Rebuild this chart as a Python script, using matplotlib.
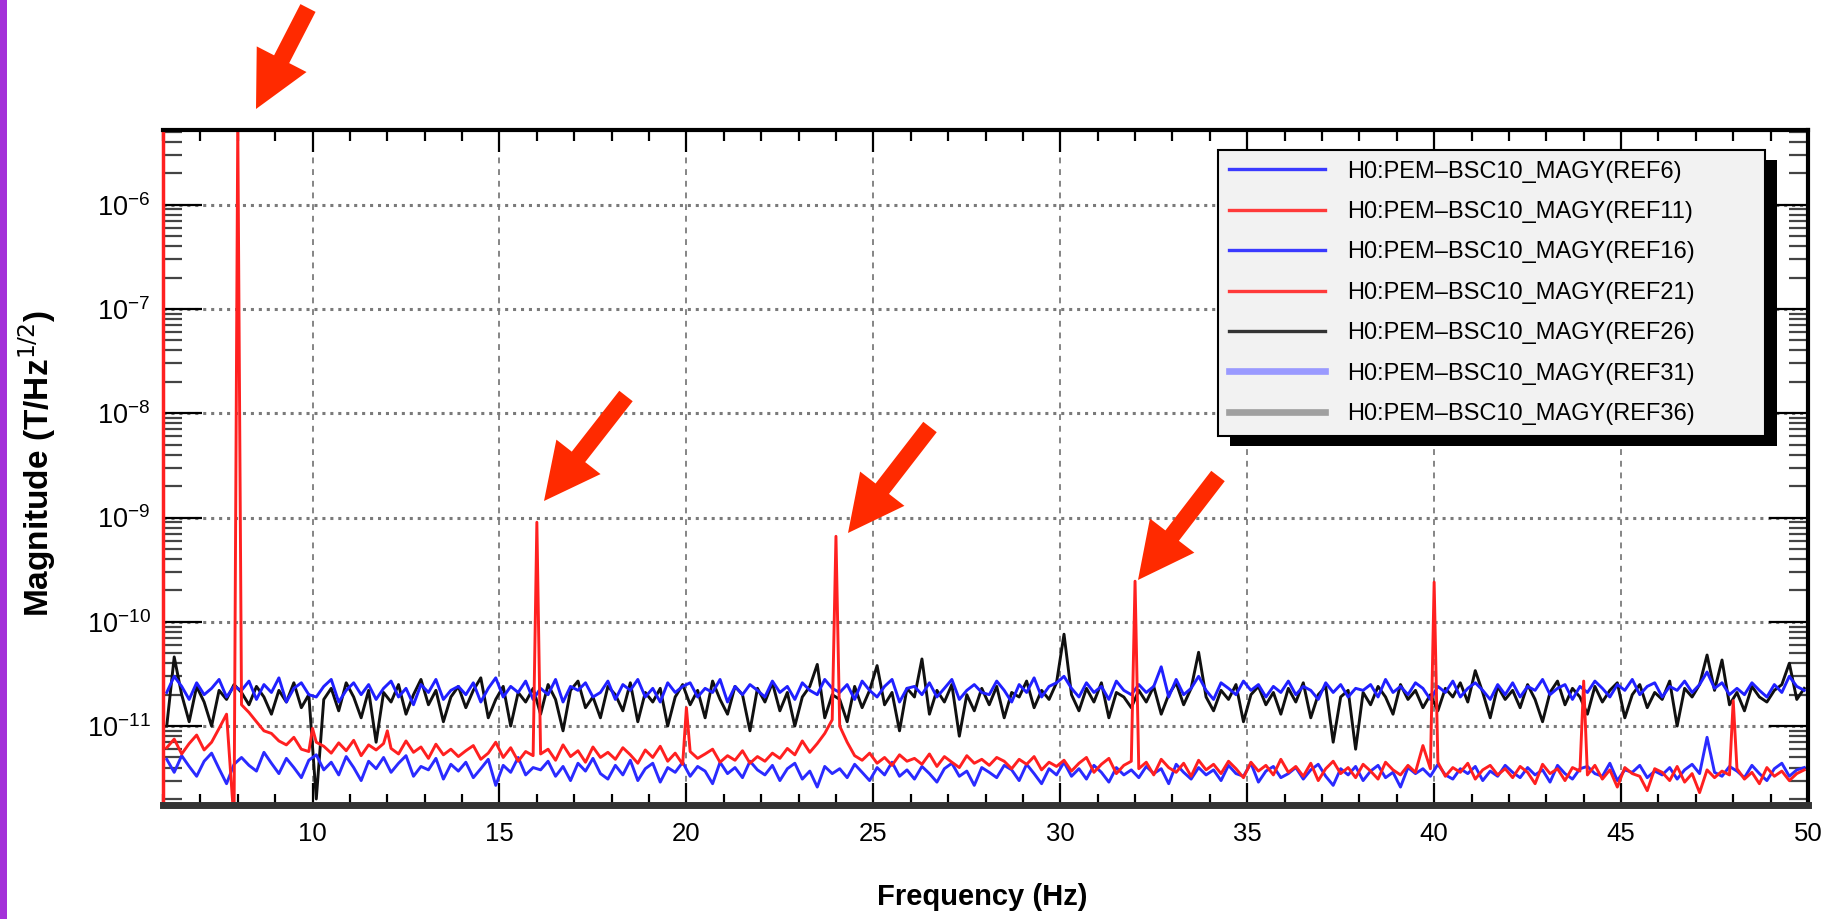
import numpy as np
import matplotlib
matplotlib.use('Agg')
import matplotlib.pyplot as plt
from matplotlib.patches import FancyArrow, Rectangle
from matplotlib.lines import Line2D
from matplotlib.transforms import IdentityTransform
from matplotlib.ticker import FixedLocator, MultipleLocator, NullFormatter, LogFormatterSciNotation

plt.rcParams['font.family'] = ['Liberation Sans Narrow', 'Liberation Sans', 'DejaVu Sans']
plt.rcParams['mathtext.fontset'] = 'custom'
plt.rcParams['mathtext.rm'] = 'Liberation Sans Narrow'
plt.rcParams['mathtext.it'] = 'Liberation Sans Narrow:italic'
plt.rcParams['mathtext.bf'] = 'Liberation Sans Narrow:bold'

# ---------------- data (magnitudes in units of 1e-12 T/Hz^1/2) ----------------
SCALE = 1e-12
f_start, f_step, n_pts = 6.1, 0.2, 220
freq = np.round(f_start + f_step * np.arange(n_pts), 2)

ref26_black = [
    10, 46, 20, 11, 24, 17, 10, 22, 18, 25,
    21, 16, 24, 19, 13, 22, 17, 26, 15, 20,
    2, 18, 23, 14, 26, 19, 12, 22, 7, 21,
    17, 25, 13, 20, 28, 16, 22, 11, 19, 24,
    15, 22, 29, 12, 18, 24, 10, 21, 17, 23,
    13, 25, 18, 9, 22, 27, 15, 19, 12, 24,
    20, 14, 26, 11, 21, 17, 23, 10, 19, 25,
    16, 22, 12, 27, 18, 13, 24, 20, 9, 23,
    17, 26, 14, 21, 10, 19, 24, 39, 12, 20,
    18, 11, 24, 15, 22, 38, 16, 21, 9, 23,
    19, 44, 13, 22, 17, 25, 8, 20, 14, 23,
    16, 24, 12, 21, 19, 27, 15, 22, 18, 26,
    76, 20, 14, 23, 17, 26, 12, 21, 19, 15,
    22, 17, 24, 13, 20, 26, 16, 23, 51, 19,
    14, 22, 18, 25, 11, 20, 24, 16, 21, 13,
    23, 17, 26, 12, 20, 24, 7, 19, 22, 6,
    21, 16, 24, 19, 13, 25, 18, 22, 15, 20,
    14, 23, 19, 26, 17, 34, 21, 12, 24, 18,
    22, 15, 25, 18, 11, 21, 27, 16, 23, 19,
    13, 24, 17, 22, 26, 12, 20, 25, 15, 21,
    18, 27, 10, 23, 19, 25, 48, 22, 43, 16,
    21, 14, 24, 19, 17, 22, 25, 40, 18, 23,
]

ref16_blue = [
    21, 30, 24, 18, 26, 20, 23, 28, 19, 24,
    22, 27, 18, 25, 21, 29, 17, 23, 26, 20,
    19, 24, 28, 17, 22, 26, 20, 25, 18, 23,
    27, 19, 23, 16, 25, 21, 28, 18, 22, 24,
    20, 26, 17, 23, 29, 19, 24, 21, 27, 18,
    23, 20, 28, 17, 24, 22, 26, 19, 21, 27,
    18, 25, 22, 28, 19, 23, 17, 26, 21, 24,
    26, 19, 23, 21, 28, 17, 24, 20, 25, 22,
    19, 27, 21, 24, 18, 26, 22, 20, 28, 23,
    21, 25, 18, 27, 22, 19, 24, 28, 17, 23,
    24, 20, 26, 19, 23, 28, 18, 22, 25, 21,
    20, 27, 22, 17, 25, 21, 29, 19, 24, 26,
    30, 23, 19, 26, 21, 24, 18, 27, 22, 20,
    25, 21, 24, 37, 19, 28, 20, 23, 30, 22,
    18, 26, 23, 20, 27, 22, 25, 19, 24, 21,
    27, 20, 24, 22, 18, 26, 21, 25, 19, 23,
    22, 25, 19, 28, 21, 24, 20, 26, 23, 18,
    24, 21, 27, 19, 23, 26, 22, 18, 25, 20,
    26, 19, 24, 22, 28, 20, 23, 25, 18, 24,
    21, 27, 23, 19, 25, 22, 28, 20, 24, 26,
    19, 24, 22, 27, 21, 25, 33, 23, 26, 20,
    23, 20, 26, 22, 19, 25, 21, 30, 24, 22,
]

ref6_blue = [
    4.8, 3.6, 5.2, 4.1, 3.3, 4.6, 5.5, 3.9, 2.8, 4.3,
    5.0, 4.2, 3.7, 5.6, 4.4, 3.5, 4.9, 4.0, 3.2, 4.7,
    5.3, 3.8, 4.5, 3.4, 5.1, 4.0, 3.0, 4.6, 3.9, 5.0,
    3.6, 4.4, 5.2, 3.3, 4.1, 3.8, 4.9, 3.1, 4.3, 3.7,
    4.5, 3.2, 3.9, 4.8, 2.7, 4.2, 3.6, 5.0, 3.4, 4.0,
    3.8, 4.6, 3.3, 4.1, 3.0, 4.4, 3.7, 4.9, 3.5, 3.1,
    4.2, 3.4, 4.7, 3.0, 3.9, 4.4, 2.9, 4.0, 3.6, 4.5,
    3.3, 4.1, 3.7, 2.8, 4.5, 3.5, 4.0, 3.2, 4.6, 3.8,
    3.4, 4.2, 3.0, 3.9, 4.4, 3.1, 3.7, 2.6, 4.1, 3.5,
    3.9, 3.2, 4.3, 3.6, 3.0, 4.0, 3.4, 4.5, 3.3, 3.8,
    3.1, 4.1, 3.5, 2.9, 3.9, 4.4, 3.3, 3.7, 2.7, 4.0,
    3.6, 3.2, 4.2, 3.8, 3.0, 4.3, 3.5, 2.8, 3.9, 3.4,
    4.5, 3.3, 3.9, 3.1, 4.2, 3.6, 2.9, 4.0, 3.4, 3.8,
    3.2, 4.1, 3.5, 3.9, 2.8, 4.3, 3.6, 3.1, 4.0, 3.4,
    3.8, 3.0, 4.2, 3.5, 3.3, 4.4, 2.9, 3.7, 4.1, 3.2,
    3.5, 4.0, 3.1, 3.8, 4.3, 3.3, 2.7, 3.9, 3.4, 4.1,
    3.0, 3.7, 4.2, 3.2, 3.6, 2.6, 4.0, 3.5, 3.9, 3.3,
    4.3, 3.4, 3.1, 3.9, 3.5, 4.1, 3.0, 3.7, 3.3, 4.2,
    3.6, 3.2, 4.0, 3.4, 3.8, 2.9, 4.2, 3.5, 3.1, 3.9,
    4.1, 3.5, 3.3, 4.4, 3.0, 3.8, 3.6, 4.2, 3.2, 3.7,
    3.4, 4.0, 3.1, 3.8, 4.3, 3.5, 7.8, 3.6, 3.3, 4.1,
    3.7, 3.2, 4.2, 3.5, 3.0, 3.9, 4.4, 3.3, 3.8, 4.0,
]

ref11_red = [
    6.2, 7.5, 5.4, 6.8, 8.2, 5.9, 7.0, 9.5, 13.0, 1.2,
    16.0, 13.5, 11.0, 9.0, 8.5, 7.2, 6.6, 7.8, 6.0, 5.7,
    7.0, 6.4, 5.5, 6.9, 5.8, 7.3, 5.2, 6.6, 5.9, 6.8,
    6.1, 5.4, 7.2, 5.6, 6.3, 4.9, 6.7, 5.3, 6.0, 5.1,
    5.8, 6.5, 4.8, 5.5, 7.0, 5.0, 6.2, 4.6, 5.7, 5.2,
    5.4, 6.0, 4.7, 6.6, 5.1, 5.8, 4.5, 6.3, 5.0, 5.6,
    4.8, 6.2, 5.3, 4.4, 5.9, 5.0, 6.4, 4.6, 5.5, 4.3,
    5.7, 4.9, 5.4, 6.0, 4.5, 5.2, 4.7, 5.8, 4.4, 5.1,
    4.6, 5.5, 4.9, 6.1, 5.3, 7.2, 5.6, 6.8, 8.5, 11.5,
    10.0, 7.0, 5.2, 4.7, 5.5, 4.4, 5.0, 4.2, 5.3, 4.6,
    4.9, 4.3, 5.4, 4.1, 5.1, 4.5, 4.0, 5.2, 4.4, 4.8,
    4.2, 5.0, 4.6, 3.9, 4.8, 4.3, 5.1, 3.8, 4.5, 4.1,
    4.7, 3.7, 4.4, 5.0, 3.6, 4.3, 4.9, 3.5, 4.2, 4.6,
    3.9, 4.5, 3.4, 4.8, 4.0, 3.6, 4.4, 3.3, 4.7, 3.8,
    4.3, 3.5, 4.6, 3.9, 3.2, 4.5, 3.7, 4.2, 3.4, 4.8,
    3.6, 4.1, 3.3, 4.4, 3.0, 3.9, 4.6, 3.5, 4.0, 3.2,
    4.3, 3.7, 3.1, 4.5, 3.8, 3.4, 4.2, 3.6, 6.5, 3.9,
    4.5, 3.3, 4.0, 3.6, 4.4, 3.1, 3.8, 4.2, 3.4, 3.9,
    3.2, 4.1, 3.6, 2.8, 4.3, 3.5, 3.9, 3.0, 4.0, 3.7,
    3.4, 4.2, 3.1, 3.8, 2.6, 4.0, 3.5, 3.3, 2.4, 3.9,
    3.6, 3.0, 4.1, 2.9, 3.5, 2.3, 3.8, 3.2, 3.7, 3.4,
    3.9, 3.1, 3.6, 2.8, 4.0, 3.3, 3.7, 3.0, 3.5, 3.8,
]

# narrow lines in the REF11 spectrum (frequency in Hz, magnitude in 1e-12 units)
peak_freq = [8.0, 10.0, 12.0, 16.0, 20.0, 24.0, 32.0, 40.0, 44.0, 48.0]
peak_mag = [6.0e6, 9.5, 9.0, 900.0, 15.0, 660.0, 245.0, 240.0, 27.0, 17.5]

legend_labels = ['H0:PEM\u2013BSC10_MAGY(REF6)', 'H0:PEM\u2013BSC10_MAGY(REF11)',
                 'H0:PEM\u2013BSC10_MAGY(REF16)', 'H0:PEM\u2013BSC10_MAGY(REF21)',
                 'H0:PEM\u2013BSC10_MAGY(REF26)', 'H0:PEM\u2013BSC10_MAGY(REF31)',
                 'H0:PEM\u2013BSC10_MAGY(REF36)']
legend_colors = ['#3a3aff', '#ff3a3a', '#3a3aff', '#ff3a3a', '#333333', '#9a9aff', '#a0a0a0']
legend_widths = [2.4, 2.4, 2.4, 2.4, 2.4, 4.8, 4.8]

x_ticks_major = [10, 15, 20, 25, 30, 35, 40, 45, 50]
y_ticks_major = [1e-11, 1e-10, 1e-9, 1e-8, 1e-7, 1e-6]
x_min, x_max = 6.0, 50.0
y_min, y_max = 1.75e-12, 5.2e-6

# ---------------- figure ----------------
W, H = 1837, 919
fig = plt.figure(figsize=(W / 100, H / 100), dpi=100)
fig.patch.set_facecolor('white')
ax = fig.add_axes([163 / W, 1 - 805 / H, (1808 - 163) / W, (805 - 130) / H])

red_f = np.concatenate([freq, peak_freq])
red_v = np.concatenate([ref11_red, peak_mag])
order = np.argsort(red_f, kind='stable')

lw = 2.1
ax.plot(freq, np.array(ref26_black) * SCALE, color='#101010', lw=lw, zorder=2)
ax.plot(freq, np.array(ref16_blue) * SCALE, color='#2020ff', lw=lw, zorder=2.1)
ax.plot(red_f[order], red_v[order] * SCALE, color='#ff2020', lw=lw, zorder=2.3)
ax.plot(freq, np.array(ref6_blue) * SCALE, color='#2a2aff', lw=lw, zorder=2.2)

ax.set_yscale('log')
ax.set_xlim(x_min, x_max)
ax.set_ylim(y_min, y_max)

ax.xaxis.set_major_locator(FixedLocator(x_ticks_major))
ax.xaxis.set_minor_locator(MultipleLocator(1))
minor_y = [m * 10.0 ** e for e in range(-12, -5) for m in range(2, 10)
           if y_min <= m * 10.0 ** e <= y_max]
ax.yaxis.set_major_locator(FixedLocator(y_ticks_major))
ax.yaxis.set_major_formatter(LogFormatterSciNotation())
ax.yaxis.set_minor_locator(FixedLocator(minor_y))
ax.yaxis.set_minor_formatter(NullFormatter())

ax.tick_params(axis='x', which='both', direction='in', top=True, bottom=True,
               labelsize=18.5, pad=12, colors='black')
ax.tick_params(axis='x', which='major', length=16, width=1.6)
ax.tick_params(axis='x', which='minor', length=8, width=1.6)
ax.tick_params(axis='y', which='both', direction='in', left=True, right=True,
               labelsize=19.5, pad=9)
ax.tick_params(axis='y', which='major', length=28, width=1.6)
ax.tick_params(axis='y', which='minor', length=14, width=1.6, color='#444444')

ax.grid(True, axis='x', which='major', color='#858585', linestyle=(0, (3, 3)), lw=1.4)
ax.grid(True, axis='y', which='major', color='#7a7a7a', linestyle=(0, (1, 1.6)), lw=2.2)
ax.set_axisbelow(True)

for side, col, w in [('top', 'black', 3), ('right', 'black', 3),
                     ('bottom', '#333333', 5), ('left', '#ff2020', 2.5)]:
    ax.spines[side].set_color(col)
    ax.spines[side].set_linewidth(w)

ax.set_xlabel('Frequency (Hz)', fontsize=21, fontweight='bold')
ax.xaxis.set_label_coords((982 - 163) / 1645, (805 - 897) / 675)
ax.xaxis.label.set_va('center')
ax.set_ylabel('Magnitude (T/Hz$^{1/2}$)', fontsize=24, fontweight='bold',
              family=['Liberation Sans', 'DejaVu Sans'])
ax.yaxis.set_label_coords((37 - 163) / 1645, (805 - 463) / 675)
ax.yaxis.label.set_va('center')

handles = [Line2D([], [], color=c, lw=w) for c, w in zip(legend_colors, legend_widths)]
leg = ax.legend(handles, legend_labels, loc='upper left',
                bbox_to_anchor=((1218 - 163) / 1645, (805 - 432) / 675,
                                (1765 - 1218) / 1645, (432 - 150) / 675),
                mode='expand', borderaxespad=0, fontsize=17, handlelength=4.1,
                handletextpad=0.9, borderpad=0.45, labelspacing=0.78,
                fancybox=False, framealpha=1, facecolor='#f2f2f2', edgecolor='black')
leg.get_frame().set_linewidth(1.5)
leg.set_zorder(6)

fig.canvas.draw()
bb = leg.get_window_extent(fig.canvas.get_renderer())
shadow = Rectangle((bb.x0 + 12, bb.y0 - 10), bb.width, bb.height,
                   transform=IdentityTransform(), facecolor='black',
                   edgecolor='none', zorder=5.9)
ax.add_artist(shadow)

# left purple strip
fig.add_artist(Rectangle((0, 0), 7, H, transform=IdentityTransform(),
                         facecolor='#a431d9', edgecolor='none'))

# red annotation arrows (pixel coords, origin top-left)
arrows = [((308, 8), (256, 109)), ((626, 396), (544, 501)),
          ((930, 427), (848, 533)), ((1218, 476), (1138, 580))]
for (tx, ty), (hx, hy) in arrows:
    fig.add_artist(FancyArrow(tx, H - ty, hx - tx, -(hy - ty), width=17,
                              head_width=56, head_length=56,
                              length_includes_head=True,
                              transform=IdentityTransform(),
                              facecolor='#ff2a00', edgecolor='none', zorder=10))

fig.savefig('out.png', dpi=100, facecolor='white')
